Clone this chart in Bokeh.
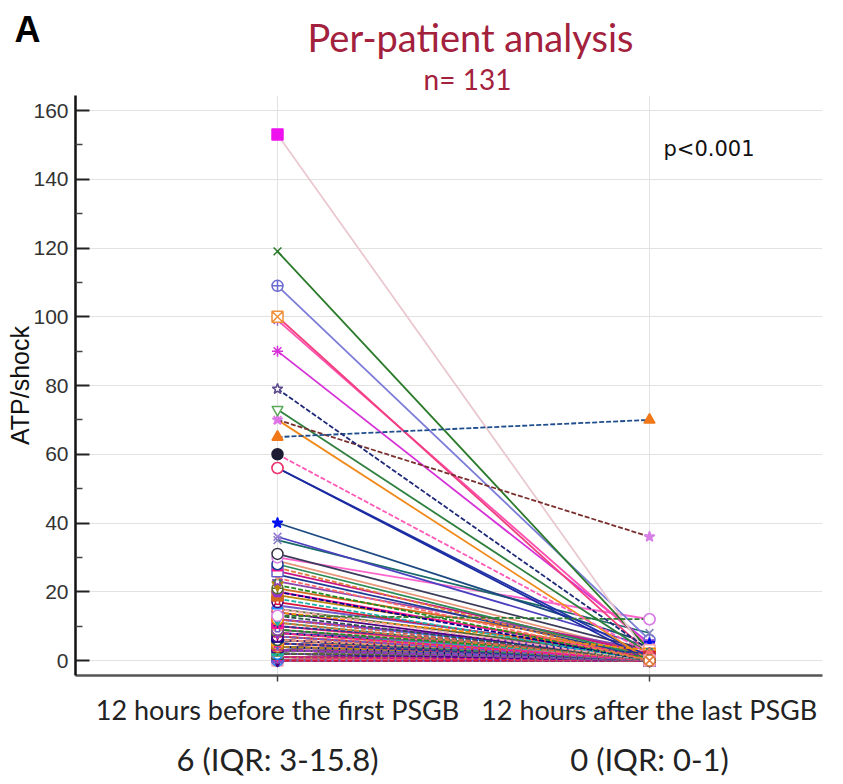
from bokeh.plotting import figure
from bokeh.layouts import column
from bokeh.models import ColumnDataSource, LinearAxis, FixedTicker, Label, Range1d
from bokeh.embed import file_html
from bokeh.resources import INLINE

# ---------------- data ----------------
groups = ["12 hours before the first PSGB", "12 hours after the last PSGB"]
group_summaries = ["6 (IQR: 3-15.8)", "0 (IQR: 0-1)"]
panel_text = "A"
title_text = "Per-patient analysis"
n_text = "n= 131"
p_text = "p<0.001"
y_ticks = [0, 20, 40, 60, 80, 100, 120, 140, 160]

before = [153, 119, 109, 100, 99, 90, 79, 73, 70, 65, 70, 60, 56, 56, 40, 36, 35, 31, 30, 13, 28, 27, 26, 25, 24, 23, 22, 21, 20, 20, 19, 18, 17,
          16, 15, 15, 14, 14, 29, 13, 12, 12, 12, 11, 11, 10, 10, 10, 9, 9, 9, 8, 8, 8, 8, 7, 7, 7, 7, 7, 6, 6, 6, 6, 6, 6,
          6, 5, 5, 5, 5, 5, 5, 5, 5, 4, 4, 4, 4, 4, 4, 4, 4, 4, 4, 3, 3, 3, 3, 3, 3, 3, 3, 3, 3, 3, 3, 3, 3,
          3, 3, 3, 2, 2, 2, 2, 2, 2, 2, 2, 2, 2, 2, 1, 1, 1, 1, 1, 1, 1, 1, 1, 1, 1, 0, 0, 0, 0, 0, 0, 0]
after = [1, 3, 6, 2, 4, 5, 3, 2, 0, 70, 36, 2, 0, 1, 5, 4, 8, 3, 12, 12, 1, 0, 2, 1, 0, 3, 0, 3, 1, 0, 2, 0, 1,
         2, 0, 1, 3, 0, 2, 0, 2, 0, 1, 0, 0, 1, 2, 0, 0, 1, 0, 0, 2, 0, 1, 0, 0, 1, 0, 0, 0, 1, 0, 0, 2, 0,
         0, 1, 0, 0, 2, 0, 1, 0, 0, 0, 1, 0, 0, 0, 2, 0, 1, 0, 0, 0, 0, 1, 0, 0, 0, 2, 0, 1, 0, 0, 0, 0, 0,
         0, 1, 0, 0, 0, 1, 0, 0, 2, 0, 0, 0, 1, 0, 0, 0, 1, 0, 0, 0, 0, 0, 1, 0, 0, 0, 0, 1, 0, 0, 0, 0]

# ---------------- styles ----------------
top_line_colors = ["#e9c9cf", "#2a7a2a", "#7c7cd8", "#f0407f", "#ff4fb0", "#d631d6", "#1e2a78", "#2f7f3f",
                   "#f08a1c", "#1f4e8f", "#7a2f2f", "#ff5ab8", "#1a2aa0", "#2233aa", "#1c4a80", "#4a3fbf",
                   "#1a6a6a", "#3a3a5a", "#ff66cc", "#2e7d32"]
top_dashes = ["solid", "solid", "solid", "solid", "solid", "solid", "dashed", "solid",
              "solid", "dashed", "dashed", "dashed", "solid", "solid", "solid", "solid",
              "solid", "solid", "solid", "dashed"]
top_markers = ["square", "x", "circle_cross", "square_x", "asterisk", "asterisk", "star", "inverted_triangle",
               "x", "triangle", "star", "circle", "circle", "circle", "star", "x",
               "x", "circle", "circle", "circle"]
top_marker_colors = ["#ee11ee", "#2a7a2a", "#6a6ad0", "#f0903a", "#aa66cc", "#d631d6", "#5b4a8b", "#5aaa5a",
                     "#e46ee4", "#f07818", "#d77fe6", "#1b1b33", "#e8336d", "#ff80a0", "#0010ee", "#9a7ad8",
                     "#8080c0", "#333344", "#d77fe6", "#d77fe6"]
top_filled = [True, False, False, False, False, False, False, False,
              False, True, True, True, False, False, True, False,
              False, False, False, False]

cyc_colors = ["#2e8b57", "#e07b39", "#c71585", "#1f3a93", "#ff6b6b", "#8e44ad", "#228b22", "#d2691e",
              "#ff1493", "#00008b", "#b8860b", "#20b2aa", "#dc143c", "#6a5acd", "#f4a6b0", "#556b2f",
              "#ff8c00", "#4b0082", "#e9967a", "#2f4f4f", "#9932cc", "#cd5c5c", "#1e90ff"]
cyc_markers = ["circle", "triangle", "square", "diamond", "x", "star", "inverted_triangle", "circle_cross",
               "hex", "asterisk", "square_x", "plus", "circle_x", "triangle_dot"]
cyc_dashes = ["solid", "dashed", "solid", "solid", "dashed"]
cyc_filled = [False, True, False, True, False, False, True]

n_pat = len(before)
line_colors, dashes, markers, marker_colors, filled = [], [], [], [], []
for i in range(n_pat):
    if i < len(top_line_colors):
        line_colors.append(top_line_colors[i]); dashes.append(top_dashes[i])
        markers.append(top_markers[i]); marker_colors.append(top_marker_colors[i]); filled.append(top_filled[i])
    else:
        j = i - len(top_line_colors)
        line_colors.append(cyc_colors[j % len(cyc_colors)])
        dashes.append(cyc_dashes[j % len(cyc_dashes)])
        markers.append(cyc_markers[j % len(cyc_markers)])
        marker_colors.append(cyc_colors[(j * 5 + 3) % len(cyc_colors)])
        filled.append(cyc_filled[j % len(cyc_filled)])

# ---------------- geometry helpers (pixel -> data) ----------------
W, H = 843, 784
HEAD_H = 95
X1_PX, X_SCALE = 277.0, 372.0
Y0_PX, Y_SCALE = 660.0, 3.4375
def xd(px):
    return 1 + (px - X1_PX) / X_SCALE
def yd(py):
    return (Y0_PX - py) / Y_SCALE

# ---------------- header (panel letter, title, n) ----------------
head = figure(width=W, height=HEAD_H, output_backend="svg", toolbar_location=None,
              y_range=Range1d(HEAD_H, 0),
              x_axis_type=None, y_axis_type=None, min_border=0,
              min_border_left=0, min_border_right=0, min_border_top=0, min_border_bottom=0)
try:
    head.frame_align = False
    hx0, hx1 = 0, W
except Exception:
    hx0, hx1 = 75, 822
head.x_range = Range1d(hx0, hx1)
head.outline_line_color = None
head.background_fill_color = "white"
head.border_fill_color = "white"
head.add_layout(Label(x=14, y=29, text=panel_text, text_font="Liberation Sans",
                      text_font_style="bold", text_font_size="36px", text_color="#000000",
                      text_align="left", text_baseline="middle"))
head.add_layout(Label(x=470, y=36, text=title_text, text_font="Lato",
                      text_font_size="38px", text_color="#a3213c",
                      text_align="center", text_baseline="middle"))
head.add_layout(Label(x=467, y=78, text=n_text, text_font="Lato",
                      text_font_size="28px", text_color="#a3213c",
                      text_align="center", text_baseline="middle"))

# ---------------- main plot ----------------
p = figure(width=W, height=H - HEAD_H, output_backend="svg", toolbar_location=None,
           x_range=Range1d(xd(75), xd(822)), y_range=Range1d(yd(675), yd(95)),
           min_border_left=75, min_border_right=W - 822, min_border_top=0, min_border_bottom=H - 675)
p.outline_line_color = None
p.background_fill_color = "white"
p.border_fill_color = "white"

p.xgrid.ticker = FixedTicker(ticks=[1, 2])
p.ygrid.ticker = FixedTicker(ticks=y_ticks)
p.xgrid.grid_line_color = "#e2e2e2"
p.ygrid.grid_line_color = "#e2e2e2"

ya = p.yaxis[0]
ya.ticker = FixedTicker(ticks=y_ticks, minor_ticks=[t + 10 for t in y_ticks[:-1]])
ya.axis_line_width = 2.5
ya.axis_line_color = "#111111"
ya.major_tick_in = 14
ya.major_tick_out = 0
ya.minor_tick_in = 7
ya.minor_tick_out = 0
ya.major_tick_line_color = "#222222"
ya.major_tick_line_width = 2
ya.minor_tick_line_color = "#444444"
ya.minor_tick_line_width = 1.5
ya.major_label_text_font = "Liberation Sans"
ya.major_label_text_font_size = "21px"
ya.major_label_text_color = "#333333"
ya.major_label_standoff = 7
ya.axis_label = "ATP/shock"
ya.axis_label_text_font = "Liberation Sans"
ya.axis_label_text_font_size = "25px"
ya.axis_label_text_font_style = "normal"
ya.axis_label_text_color = "#111111"
ya.axis_label_standoff = -4

xa = p.xaxis[0]
xa.ticker = FixedTicker(ticks=[1, 2])
xa.major_label_overrides = {1: groups[0], 2: groups[1]}
xa.axis_line_width = 2.5
xa.axis_line_color = "#555555"
xa.major_tick_in = 0
xa.major_tick_out = 6
xa.major_tick_line_color = "#444444"
xa.major_tick_line_width = 1.5
xa.minor_tick_line_color = None
xa.major_label_text_font = "Lato"
xa.major_label_text_font_size = "27px"
xa.major_label_text_color = "#222222"
xa.major_label_standoff = 11

xa2 = LinearAxis(ticker=FixedTicker(ticks=[1, 2]),
                 major_label_overrides={1: group_summaries[0], 2: group_summaries[1]},
                 axis_line_color=None, major_tick_line_color=None, minor_tick_line_color=None,
                 major_tick_out=0, major_tick_in=0, minor_tick_out=0,
                 major_label_text_font="Lato", major_label_text_font_size="31px",
                 major_label_text_color="#222222", major_label_standoff=11)
p.add_layout(xa2, "below")

for dash in ["solid", "dashed"]:
    idx = [i for i in range(n_pat) if dashes[i] == dash][::-1]
    src = ColumnDataSource(dict(
        xs=[[1, 2] for i in idx],
        ys=[[before[i], after[i]] for i in idx],
        color=[line_colors[i] for i in idx],
    ))
    p.multi_line("xs", "ys", source=src, line_color="color", line_width=1.8,
                 line_dash=dash if dash == "solid" else "5 2")

# before-group markers (largest values drawn last) and after-group markers (smallest last)
order_b = list(range(n_pat))[::-1]
order_a = list(range(n_pat))
msrc = ColumnDataSource(dict(
    x=[1 for i in order_b] + [2 for i in order_a],
    y=[before[i] for i in order_b] + [after[i] for i in order_a],
    marker=[markers[i] for i in order_b] + [markers[i] for i in order_a],
    lc=[marker_colors[i] for i in order_b] + [marker_colors[i] for i in order_a],
    fc=[(marker_colors[i] if filled[i] else "white") for i in order_b]
       + [(marker_colors[i] if filled[i] else "white") for i in order_a],
))
p.scatter("x", "y", source=msrc, marker="marker", size=11, line_color="lc",
          fill_color="fc", line_width=1.5)

p.add_layout(Label(x=xd(663), y=yd(148), text=p_text, text_font="DejaVu Sans",
                   text_font_size="21px", text_color="#111111",
                   text_align="left", text_baseline="middle"))

layout = column(head, p, spacing=0)
open("out.html", "w").write(file_html(layout, INLINE))
